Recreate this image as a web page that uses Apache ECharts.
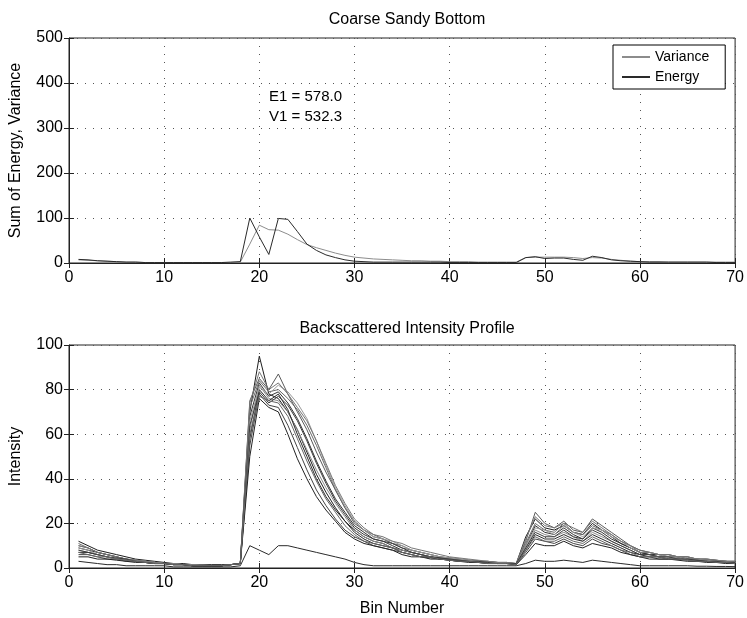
<!DOCTYPE html>
<html><head><meta charset="utf-8">
<script src="https://cdn.jsdelivr.net/npm/echarts@6/dist/echarts.min.js"></script>
<style>html,body{margin:0;padding:0;background:#fff}#c{width:747px;height:618px}</style>
</head><body><div id="c"></div>
<script>
// ---- data (x = bin 1..70) ----
const topTitle = 'Coarse Sandy Bottom';
const bottomTitle = 'Backscattered Intensity Profile';
const topYName = 'Sum of Energy, Variance';
const bottomYName = 'Intensity';
const xName = 'Bin Number';
const annotation = ['E1 = 578.0', 'V1 = 532.3'];
const legendNames = ['Variance', 'Energy'];

const variance = [7,6,5,4,3,2,2,1,1,1,1,1,1,1,1,1,1,
  2,42,84,74,73,64,52,41,34,28,22,17,13,11,9,8,7,6,
  5,5,4,4,3,3,3,2,2,2,2,2,
  12,13,13,13,13,12,10,12,11,8,6,4,3,
  3,3,2,2,2,2,2,2,2,2];
const energy = [8,7,5,4,3,2,2,1,1,1,1,1,1,1,1,1,2,
  3,100,58,19,99,97,70,42,28,18,12,7,4,3,2,2,2,2,
  2,2,2,2,1,1,1,1,1,1,1,1,
  12,14,10,11,11,8,6,15,12,7,5,4,3,
  2,2,2,2,2,2,2,1,1,1];

const p1 = [12,10,8,7,6,5,4,3.5,3,2.5,2,2,1.5,1.5,1.5,1.5,1.5,
  2,70,95,78,76,70,62,52,42,34,27,21,17,14,12,11,9,8,
  7,6,5,4.5,4,3.5,3,3,2.5,2.5,2,2,
  14,22,18,17,19,16,15,20,17,14,11,9,7,
  6,6,5,5,4,4,3.5,3,3,2.5];
const p2 = [10,9,7,6,5,4,3.5,3,2.5,2,2,1.5,1.5,1.5,1,1,1.5,
  2,75,85,80,87,78,70,62,52,43,35,27,20,17,14,13,11,9,
  8,7,6,5,4.5,4,3.5,3,3,2.5,2.5,2,
  12,25,20,18,21,17,16,22,19,16,13,10,8,
  7,6,6,5,5,4,4,3.5,3,3];
const p3 = [9,8,7,6,5,4,3,3,2.5,2,2,1.5,1.5,1,1,1,1.5,
  2,68,83,77,79,74,67,58,48,39,31,25,19,16,13,12,10,8,
  7,6,5,4.5,4,3.5,3,3,2.5,2.5,2,2,
  10,19,16,15,18,15,13,18,16,13,11,9,7,
  6,5,5,5,4,4,3.5,3,3,2.5];
const p4 = [8,7,6,5,4,4,3,2.5,2,2,1.5,1.5,1,1,1,1,1.5,
  2,62,82,76,75,70,62,53,44,36,29,23,17,14,12,11,9,8,
  7,6,5,4,4,3.5,3,2.5,2.5,2,2,2,
  9,17,15,14,16,14,12,16,14,12,10,8,6,
  6,5,5,4,4,3.5,3,3,2.5,2.5];
const p5 = [7,7,6,5,4,3.5,3,2.5,2,2,1.5,1.5,1,1,1,1,1.5,
  2,58,80,75,78,71,60,50,40,32,26,21,16,13,11,10,9,7,
  6,5,5,4,3.5,3,3,2.5,2.5,2,2,2,
  8,15,13,13,15,13,12,15,13,11,9,7,6,
  5,5,4,4,4,3.5,3,3,2.5,2];
const p6 = [11,9,7,6,5,4,3.5,3,2.5,2,2,1.5,1.5,1.5,1,1,1.5,
  2,72,84,79,80,76,71,64,55,45,35,27,21,17,15,13,11,10,
  8,7,6,5,4.5,4,3.5,3,3,2.5,2.5,2,
  11,20,17,16,20,16,15,19,17,15,12,10,8,
  7,6,6,5,5,4,4,3.5,3,3];
const p7 = [6,6,5,4,4,3,3,2.5,2,2,1.5,1.5,1,1,1,1,1.5,
  2,55,78,73,72,64,54,44,35,28,22,17,14,12,10,9,8,7,
  6,5,4.5,4,3.5,3,3,2.5,2,2,2,1.5,
  7,13,12,11,13,11,10,13,11,10,8,6,5,
  5,4,4,4,3.5,3,3,2.5,2.5,2];
const p8 = [9,8,6,5,4,4,3,3,2.5,2,2,1.5,1.5,1,1,1,1.5,
  2,66,81,78,82,79,74,67,57,46,36,28,21,17,14,13,12,10,
  8,7,6,5,4.5,4,3.5,3,2.5,2.5,2,2,
  10,18,17,15,19,16,14,18,17,14,12,9,7,
  7,6,5,5,4,4,3.5,3,3,2.5];
const p9 = [5,5,4,4,3.5,3,2.5,2.5,2,2,1.5,1.5,1,1,1,1,1.5,
  2,50,76,72,70,60,49,40,32,26,21,16,13,11,10,9,8,6,
  5,5,4,4,3.5,3,2.5,2.5,2,2,2,1.5,
  6,11,10,10,12,10,9,11,10,9,7,6,5,
  4,4,4,3.5,3,3,2.5,2.5,2,2];
const p10 = [10,9,7,6,5,4,3.5,3,2.5,2,2,1.5,1.5,1,1,1,1.5,
  2,74,88,80,83,78,72,66,57,47,37,29,22,18,15,14,12,11,
  9,8,7,6,5,4.5,4,3.5,3,2.5,2.5,2,
  13,23,19,18,20,18,16,21,18,15,12,10,7,
  7,6,6,5,5,4,4,3.5,3,3];
const p11 = [8,7,6,5,4.5,4,3,2.5,2,2,1.5,1.5,1,1,1,1,1.5,
  2,64,79,74,77,73,66,57,47,38,30,24,18,15,13,12,11,9,
  7,6,5,4.5,4,3.5,3,3,2.5,2,2,2,
  9,16,14,14,17,14,13,17,15,12,10,8,6,
  6,5,5,4,4,3.5,3,3,2.5,2.5];
const p12 = [7,6,5,5,4,3.5,3,2.5,2,2,1.5,1.5,1,1,1,1,1.5,
  2,60,77,75,74,68,58,48,39,31,25,19,15,12,11,10,9,7,
  6,5,5,4,3.5,3,3,2.5,2,2,2,1.5,
  8,14,12,12,14,12,11,14,12,10,8,7,5,
  5,5,4,4,3.5,3,3,2.5,2.5,2];
const lowProfile = [3,2.5,2,1.5,1.5,1,1,1,1,1,0.5,0.5,0.5,0.5,0.5,0.5,0.5,
  1,10,8,6,10,10,9,8,7,6,5,4,2.5,1.5,1,1,1,1,
  1,1,1,1,1,1,1,1,1,1,1,1,
  2,3.5,3,3,3.5,3,2.5,3.5,3,2.5,2,1.5,1,
  1,1,1,1,1,0.8,0.8,0.7,0.7,0.6];
const profiles = [p1,p2,p3,p4,p5,p6,p7,p8,p9,p10,p11,p12];
const profileColors = ['#1e1e1e','#5a5a5a','#333','#8a8a8a','#2a2a2a','#6a6a6a','#444','#999','#222','#777','#3c3c3c','#666'];

// ---- helpers ----
const FONT = 'Liberation Sans, Arial, sans-serif';
const pairs = arr => arr.map((v, i) => [i + 1, v]);

function mainX(gridIndex, withName) {
  return {
    gridIndex, type: 'value', min: 0, max: 70, interval: 10, position: 'bottom',
    axisLine: {show: true, lineStyle: {color: '#222', width: 1}},
    axisTick: {show: true, inside: true, length: 5, lineStyle: {color: '#222'}},
    axisLabel: {color: '#000', fontSize: 16, fontFamily: FONT, margin: 7},
    splitLine: {show: true, lineStyle: {color: '#555', type: [1, 7], width: 1}},
    name: withName ? xName : '', nameLocation: 'middle', nameGap: 33,
    nameTextStyle: {color: '#000', fontSize: 16, fontFamily: FONT}
  };
}
function sideX(gridIndex) {
  return {
    gridIndex, type: 'value', min: 0, max: 70, interval: 10, position: 'top',
    axisLine: {show: false}, axisLabel: {show: false}, splitLine: {show: false},
    axisTick: {show: true, inside: true, length: 5, lineStyle: {color: '#222'}}
  };
}
function mainY(gridIndex, max, interval, name, gap) {
  return {
    gridIndex, type: 'value', min: 0, max, interval, position: 'left',
    axisLine: {show: true, lineStyle: {color: '#222', width: 1}},
    axisTick: {show: true, inside: true, length: 5, lineStyle: {color: '#222'}},
    axisLabel: {color: '#000', fontSize: 16, fontFamily: FONT, margin: 6},
    splitLine: {show: true, lineStyle: {color: '#555', type: [1, 7], width: 1}},
    name, nameLocation: 'middle', nameGap: gap,
    nameTextStyle: {color: '#000', fontSize: 16, fontFamily: FONT}
  };
}
function sideY(gridIndex, max, interval) {
  return {
    gridIndex, type: 'value', min: 0, max, interval, position: 'right',
    axisLine: {show: false}, axisLabel: {show: false}, splitLine: {show: false},
    axisTick: {show: true, inside: true, length: 5, lineStyle: {color: '#222'}}
  };
}

const series = [
  {name: 'Variance', type: 'line', xAxisIndex: 0, yAxisIndex: 0, data: pairs(variance),
   symbol: 'none', lineStyle: {color: '#8c8c8c', width: 1}, itemStyle: {color: '#8c8c8c'}, z: 3},
  {name: 'Energy', type: 'line', xAxisIndex: 0, yAxisIndex: 0, data: pairs(energy),
   symbol: 'none', lineStyle: {color: '#2a2a2a', width: 1}, itemStyle: {color: '#2a2a2a'}, z: 4}
];
profiles.forEach((p, k) => series.push({
  name: 'profile' + (k + 1), type: 'line', xAxisIndex: 2, yAxisIndex: 2, data: pairs(p),
  symbol: 'none', lineStyle: {color: profileColors[k], width: 1}, z: 3
}));
series.push({name: 'low', type: 'line', xAxisIndex: 2, yAxisIndex: 2, data: pairs(lowProfile),
  symbol: 'none', lineStyle: {color: '#2a2a2a', width: 1}, z: 4});

const option = {
  animation: false,
  backgroundColor: '#fff',
  title: [
    {text: topTitle, left: 402, top: 7, textAlign: 'center',
     textStyle: {fontSize: 16, fontWeight: 'normal', color: '#000', fontFamily: FONT}},
    {text: bottomTitle, left: 402, top: 316, textAlign: 'center',
     textStyle: {fontSize: 16, fontWeight: 'normal', color: '#000', fontFamily: FONT}}
  ],
  grid: [
    {left: 67, right: 10, top: 38, height: 225, show: true, borderColor: '#222', borderWidth: 1},
    {left: 67, right: 10, top: 345, height: 224, show: true, borderColor: '#222', borderWidth: 1}
  ],
  xAxis: [mainX(0, false), sideX(0), mainX(1, true), sideX(1)],
  yAxis: [mainY(0, 500, 100, topYName, 45), sideY(0, 500, 100),
          mainY(1, 100, 20, bottomYName, 45), sideY(1, 100, 20)],
  legend: {
    data: legendNames, orient: 'vertical', left: 613, top: 45,
    padding: [5, 16, 5, 9], itemGap: 6, itemWidth: 28, itemHeight: 2, icon: 'rect',
    borderColor: '#000', borderWidth: 1, backgroundColor: '#fff', borderRadius: 0,
    textStyle: {fontSize: 14, color: '#000', fontFamily: FONT},
    selectedMode: false
  },
  graphic: [
    {type: 'text', left: 269, top: 89, z: 10,
     style: {text: annotation[0], fill: '#000', font: '15px Liberation Sans, Arial, sans-serif'}},
    {type: 'text', left: 269, top: 109, z: 10,
     style: {text: annotation[1], fill: '#000', font: '15px Liberation Sans, Arial, sans-serif'}}
  ],
  series
};
const chart = echarts.init(document.getElementById('c'), null, {renderer: 'canvas'});
chart.setOption(option);
</script></body></html>
